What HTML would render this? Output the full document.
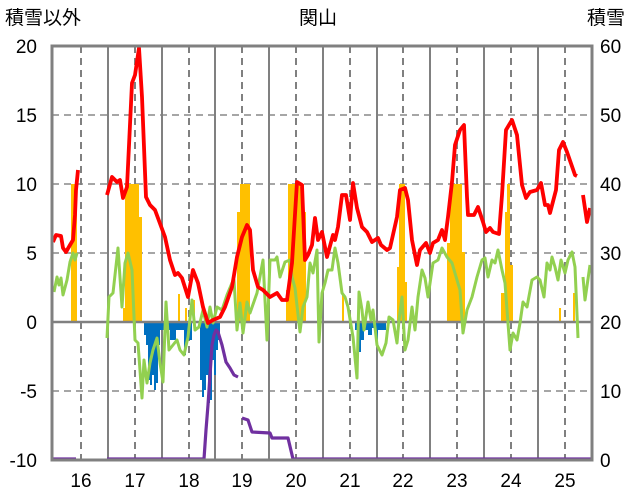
<!DOCTYPE html>
<html><head><meta charset="utf-8"><style>
body{margin:0;background:#fff}
svg{display:block}
text{font-family:"Liberation Sans","Noto Sans CJK JP",sans-serif;fill:#000}
</style></head><body>
<svg width="636" height="501" viewBox="0 0 636 501" xmlns="http://www.w3.org/2000/svg">
<rect width="636" height="501" fill="#fff"/>
<g stroke="#a6a6a6" stroke-width="2" stroke-dasharray="7,5">
<line x1="52" y1="115" x2="592" y2="115"/><line x1="52" y1="184" x2="592" y2="184"/>
<line x1="52" y1="253" x2="592" y2="253"/><line x1="52" y1="391" x2="592" y2="391"/>
</g>
<g stroke="#808080" stroke-width="2" stroke-dasharray="7,5">
<line x1="81" y1="46" x2="81" y2="460"/><line x1="135" y1="46" x2="135" y2="460"/><line x1="189" y1="46" x2="189" y2="460"/><line x1="242" y1="46" x2="242" y2="460"/><line x1="296" y1="46" x2="296" y2="460"/><line x1="350" y1="46" x2="350" y2="460"/><line x1="403" y1="46" x2="403" y2="460"/><line x1="457" y1="46" x2="457" y2="460"/><line x1="511" y1="46" x2="511" y2="460"/><line x1="565" y1="46" x2="565" y2="460"/>
</g>
<g stroke="#808080" stroke-width="2">
<line x1="108" y1="46" x2="108" y2="460"/><line x1="162" y1="46" x2="162" y2="460"/><line x1="215" y1="46" x2="215" y2="460"/><line x1="269" y1="46" x2="269" y2="460"/><line x1="323" y1="46" x2="323" y2="460"/><line x1="377" y1="46" x2="377" y2="460"/><line x1="430" y1="46" x2="430" y2="460"/><line x1="484" y1="46" x2="484" y2="460"/><line x1="538" y1="46" x2="538" y2="460"/>
</g>
<g fill="#ffc000">
<rect x="71" y="184" width="6" height="138"/>
<rect x="123" y="308" width="4" height="14"/><rect x="125" y="184" width="14" height="138"/><rect x="139" y="217" width="3" height="105"/>
<rect x="178" y="294" width="2" height="28"/><rect x="185" y="308" width="2" height="14"/><rect x="193" y="300" width="2" height="22"/>
<rect x="237" y="212" width="3" height="110"/><rect x="240" y="184" width="10" height="138"/>
<rect x="286" y="290" width="3" height="32"/><rect x="288" y="184" width="16" height="138"/><rect x="304" y="212" width="2" height="110"/>
<rect x="342" y="295" width="2" height="27"/>
<rect x="397" y="267" width="2" height="55"/><rect x="399" y="184" width="6" height="138"/><rect x="405" y="282" width="2" height="40"/>
<rect x="447" y="243" width="3" height="79"/><rect x="450" y="184" width="12" height="138"/><rect x="462" y="252" width="3" height="70"/>
<rect x="501" y="293" width="4" height="29"/><rect x="505" y="212" width="4" height="110"/><rect x="507" y="184" width="3" height="138"/><rect x="510" y="265" width="3" height="57"/>
<rect x="559" y="308" width="2" height="14"/><rect x="573" y="293" width="2" height="29"/>
</g>
<g fill="#0070c0">
<path d="M144 322 L144 335 L146 335 L146 345 L148 345 L148 380 L150 380 L150 385 L152 385 L152 375 L154 375 L154 390 L156 390 L156 383 L158 383 L158 345 L160 345 L160 322 Z"/>
<path d="M160 322 L160 330 L170 330 L170 340 L176 340 L176 330 L184 330 L184 355 L186 355 L186 340 L192 340 L192 322 Z"/>
<path d="M200 322 L200 380 L202 380 L202 397 L204 397 L204 390 L206 390 L206 375 L208 375 L208 403 L210 403 L210 400 L212 400 L212 360 L214 360 L214 375 L216 375 L216 350 L218 350 L218 340 L220 340 L220 322 Z"/>
<path d="M355 322 L355 330 L358 330 L358 352 L361 352 L361 340 L364 340 L364 330 L368 330 L368 335 L372 335 L372 328 L376 328 L376 340 L378 340 L378 330 L386 330 L386 322 Z"/>
</g>
<line x1="52" y1="322" x2="592" y2="322" stroke="#808080" stroke-width="2.5"/>
<g fill="none" stroke="#92d050" stroke-width="3" stroke-linejoin="round">
<polyline points="54,292 57,277 59,285 61,278 63,295 67,280 70,262 73,253 75,260 77,253"/>
<polyline points="107,338 109,297 113,293 117,257 118,248 122,307 125,263 128,253 132,270 135,340 138,343 142,398 144,360 147,383 150,363 153,350 157,338 160,363 163,382 166,302 169,350 173,345 177,340 180,350 184,355 188,337 192,300 195,330 199,327 203,310 207,327 210,307 213,323 217,307 222,310 227,295 232,283 234,280 237,330 240,303 243,333 247,302 250,313 257,293 263,260 267,340 270,260 275,260 277,257 280,277 285,262 290,260 292,277 295,288 300,332 303,307 307,297 310,263 313,273 317,250 319,342 322,293 325,283 328,270 332,270 335,248 338,263 342,293 345,297 348,307 353,337 357,378 359,292 362,310 364,330 368,302 371,320 373,310 377,345 382,355 386,343 389,317 393,320 397,343 399,320 402,297 405,350 408,340 412,307 415,330 418,297 422,270 425,278 428,297 433,263 438,260 442,248 447,257 452,263 457,280 460,290 463,333 467,310 472,297 477,277 482,260 485,258 488,277 492,260 495,263 498,250 502,270 505,283 510,350 513,333 517,340 520,323 523,302 527,307 532,280 537,277 540,280 544,297 547,263 550,270 552,257 555,267 558,280 561,260 565,273 568,260 572,252 575,267 578,338"/>
<polyline points="583,277 585,300 590,265"/>
</g>
<g fill="none" stroke="#7030a0" stroke-width="3.2" stroke-linejoin="round">
<polyline points="52,459 76,459"/>
<polyline points="107,459 204,459 206,430 208,405 210,375 212,345 214,335 216,330 218,332 222,345 226,362 230,368 234,375 238,377"/>
<polyline points="242,418 248,420 252,432 270,433 272,438 288,438 293,459 592,459"/>
</g>
<g fill="none" stroke="#ff0000" stroke-width="3.8" stroke-linejoin="round">
<polyline points="53,242 56,235 61,236 63,248 66,252 70,245 73,240 75,215 76,190 78,170"/>
<polyline points="107,195 112,177 117,182 120,180 123,198 127,187 132,83 135,75 139,48 142,97 146,197 150,205 155,210 165,237 170,260 175,275 178,273 182,278 188,297 193,270 198,283 203,307 208,323 213,320 220,317 225,307 232,287 237,257 242,237 247,225 250,230 253,270 258,287 263,290 270,297 277,293 282,300 287,300 292,263 297,182 302,185 305,260 308,255 312,245 315,218 318,240 322,232 327,257 333,235 335,240 338,227 342,195 346,195 350,220 353,183 357,208 362,227 367,232 372,242 378,238 381,245 387,250 390,248 397,217 400,190 405,188 408,200 412,240 417,265 420,250 426,243 430,253 433,243 438,240 442,230 445,240 448,217 452,182 455,145 460,130 464,125 467,197 468,215 474,215 478,207 483,222 486,232 490,228 493,232 499,234 502,195 506,130 512,120 517,135 522,185 526,198 530,192 537,190 541,183 545,205 548,205 550,213 556,190 559,150 563,142 567,152 575,175 577,176"/>
<polyline points="583,195 587,222 590,208"/>
</g>
<rect x="52" y="46" width="540" height="414" fill="none" stroke="#808080" stroke-width="3"/>
<g font-size="19">
<text x="5" y="24">積雪以外</text>
<text x="318" y="24" text-anchor="middle">関山</text>
<text x="587" y="24">積雪</text>
</g>
<g font-size="19" text-anchor="end">
<text x="37" y="53">20</text><text x="37" y="122">15</text><text x="37" y="191">10</text><text x="37" y="260">5</text><text x="37" y="329">0</text><text x="37" y="398">-5</text><text x="37" y="467">-10</text>
</g>
<g font-size="19">
<text x="600" y="53">60</text><text x="600" y="122">50</text><text x="600" y="191">40</text><text x="600" y="260">30</text><text x="600" y="329">20</text><text x="600" y="398">10</text><text x="600" y="467">0</text>
</g>
<g font-size="19" text-anchor="middle">
<text x="81" y="487">16</text><text x="135" y="487">17</text><text x="189" y="487">18</text><text x="242" y="487">19</text><text x="296" y="487">20</text><text x="350" y="487">21</text><text x="403" y="487">22</text><text x="457" y="487">23</text><text x="511" y="487">24</text><text x="565" y="487">25</text>
</g>
</svg>
</body></html>
